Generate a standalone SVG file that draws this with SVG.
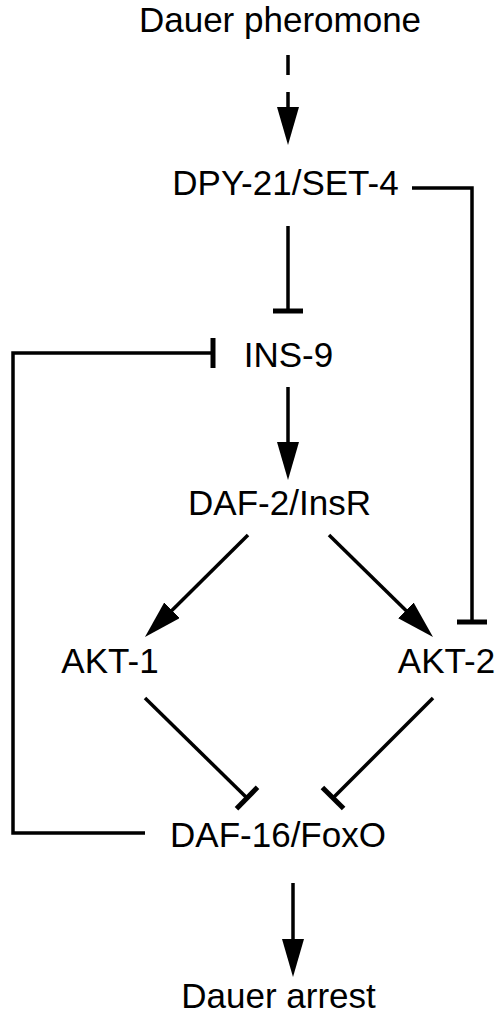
<svg xmlns="http://www.w3.org/2000/svg" width="500" height="1017" viewBox="0 0 500 1017">
<style>
text{font-family:"Liberation Sans",Arial,sans-serif;font-size:35px;fill:#000;text-anchor:middle}
.c{fill:none;stroke:#000;stroke-width:3.5}
</style>
<defs>
<marker id="arr" viewBox="0 0 38 22" refX="8" refY="11" markerWidth="38" markerHeight="22" orient="auto" markerUnits="userSpaceOnUse">
<path d="M0,0 L38,11 L0,22 Z" fill="#000"/>
</marker>
<marker id="bar" viewBox="-3 -16 6 32" refX="0" refY="0" markerWidth="6" markerHeight="32" orient="auto" markerUnits="userSpaceOnUse">
<path d="M0,-15 V15" stroke="#000" stroke-width="5"/>
</marker>
</defs>
<rect width="500" height="1017" fill="#fff"/>
<g id="connectors">
<path class="c" d="M288,55 V115" stroke-dasharray="20 17 200" marker-end="url(#arr)"/>
<path class="c" d="M288,226 V311" marker-end="url(#bar)"/>
<path class="c" d="M412,188 H472 V622" marker-end="url(#bar)"/>
<path class="c" d="M145,833 H13 V353 H213" marker-end="url(#bar)"/>
<path class="c" d="M288,387 V450" marker-end="url(#arr)"/>
<path class="c" d="M248,535 L166.3,615.9" marker-end="url(#arr)"/>
<path class="c" d="M329,535 L411.6,616" marker-end="url(#arr)"/>
<path class="c" d="M145,698 L247,798" marker-end="url(#bar)"/>
<path class="c" d="M433,698 L333,798" marker-end="url(#bar)"/>
<path class="c" d="M293,883 V947" marker-end="url(#arr)"/>
</g>
<g id="n-pheromone"><text x="280" y="32">Dauer pheromone</text></g>
<g id="n-dpy"><text x="285.5" y="195">DPY-21/SET-4</text></g>
<g id="n-ins9"><text x="288.5" y="367">INS-9</text></g>
<g id="n-daf2"><text x="279.5" y="515">DAF-2/InsR</text></g>
<g id="n-akt1"><text x="110" y="673">AKT-1</text></g>
<g id="n-akt2"><text x="446.5" y="673">AKT-2</text></g>
<g id="n-daf16"><text x="278" y="847">DAF-16/FoxO</text></g>
<g id="n-arrest"><text x="278.5" y="1008">Dauer arrest</text></g>
</svg>
